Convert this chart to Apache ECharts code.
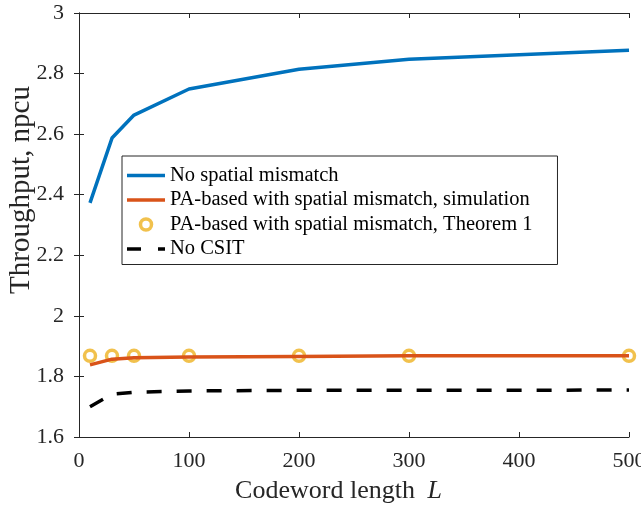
<!DOCTYPE html>
<html><head><meta charset="utf-8">
<script src="https://cdn.jsdelivr.net/npm/echarts@6/dist/echarts.min.js"></script>
<style>html,body{margin:0;padding:0;background:#fff}#c{width:641px;height:506px}</style>
</head><body><div id="c"></div>
<script>
const codewordLengths = [10, 30, 50, 100, 200, 300, 500];
const noMismatch = [2.373, 2.587, 2.663, 2.749, 2.814, 2.847, 2.877];
const paSimulation = [1.838, 1.857, 1.862, 1.864, 1.866, 1.868, 1.868];
const paTheorem = [1.868, 1.868, 1.868, 1.868, 1.868, 1.868, 1.868];
const noCSIT = [1.700, 1.741, 1.748, 1.752, 1.754, 1.754, 1.755];
const seriesNames = ['No spatial mismatch', 'PA-based with spatial mismatch, simulation', 'PA-based with spatial mismatch, Theorem 1', 'No CSIT'];

const pair = ys => codewordLengths.map((x, i) => [x, ys[i]]);
const font = 'Liberation Serif';
const axisCol = '#262626';
const blue = '#0072BD', red = '#D95319', yellow = '#EDB120';
const chart = echarts.init(document.getElementById('c'));
const baseX = {type: 'value', min: 0, max: 500, interval: 100,
  axisLine: {show: true, lineStyle: {color: axisCol, width: 1}},
  axisTick: {show: true, inside: true, length: 5, lineStyle: {color: axisCol}},
  splitLine: {show: false}};
const baseY = {type: 'value', min: 1.6, max: 3, interval: 0.2,
  axisLine: {show: true, lineStyle: {color: axisCol, width: 1}},
  axisTick: {show: true, inside: true, length: 5, lineStyle: {color: axisCol}},
  splitLine: {show: false}};
const lineIcon = 'path://M0,0 L38,0 L38,3.5 L0,3.5 Z';
const dashIcon = 'path://M0,0 L14,0 L14,3.5 L0,3.5 Z M31,0 L38,0 L38,3.5 L31,3.5 Z';
chart.setOption({
  animation: false,
  backgroundColor: '#fff',
  textStyle: {fontFamily: font},
  grid: {left: 79, right: 12, top: 13, bottom: 69, containLabel: false, outerBoundsMode: 'none'},
  xAxis: [
    Object.assign({}, baseX, {position: 'bottom',
      axisLabel: {color: axisCol, fontSize: 22, fontFamily: font, margin: 13},
      name: '{n|Codeword length }{i|L}', nameLocation: 'middle', nameGap: 41,
      nameTextStyle: {padding: [0, 31, 0, 0], rich: {n: {fontSize: 26, fontFamily: font, color: axisCol}, i: {fontSize: 26, fontFamily: font, fontStyle: 'italic', color: axisCol, padding: [0, 0, 0, 6]}}}}),
    Object.assign({}, baseX, {position: 'top', axisLabel: {show: false}})
  ],
  yAxis: [
    Object.assign({}, baseY, {position: 'left',
      axisLabel: {color: axisCol, fontSize: 22, fontFamily: font, margin: 15},
      name: 'Throughput, npcu', nameLocation: 'middle', nameGap: 43, nameMoveOverlap: false,
      nameTextStyle: {fontSize: 29, fontFamily: font, color: axisCol, padding: [0, 0, 0, 70]}}),
    Object.assign({}, baseY, {position: 'right', axisLabel: {show: false}})
  ],
  legend: {
    orient: 'vertical', left: 122, top: 156,
    backgroundColor: '#fff', borderColor: axisCol, borderWidth: 1,
    padding: [9, 25, 5, 5], itemGap: 3.5, itemWidth: 38, itemHeight: 11,
    symbolKeepAspect: true,
    textStyle: {fontSize: 20.5, fontFamily: font, color: '#000'},
    data: [
      {name: seriesNames[0], icon: lineIcon},
      {name: seriesNames[1], icon: lineIcon},
      {name: seriesNames[2], icon: 'circle', itemStyle: {color: 'rgba(0,0,0,0)', borderColor: yellow, borderWidth: 3.5}},
      {name: seriesNames[3], icon: dashIcon}
    ]
  },
  series: [
    {name: seriesNames[0], type: 'line', data: pair(noMismatch), symbol: 'none',
      lineStyle: {color: blue, width: 3.5}, itemStyle: {color: blue}},
    {name: seriesNames[1], type: 'line', data: pair(paSimulation), symbol: 'none',
      lineStyle: {color: red, width: 3.5}, itemStyle: {color: red}},
    {name: seriesNames[2], type: 'scatter', data: pair(paTheorem), symbol: 'circle', symbolSize: 11,
      itemStyle: {color: 'rgba(0,0,0,0)', borderColor: yellow, borderWidth: 3.5}},
    {name: seriesNames[3], type: 'line', data: pair(noCSIT), symbol: 'none',
      lineStyle: {color: '#000', width: 3.5, type: [15, 15]}, itemStyle: {color: '#000'}}
  ]
});
</script></body></html>
